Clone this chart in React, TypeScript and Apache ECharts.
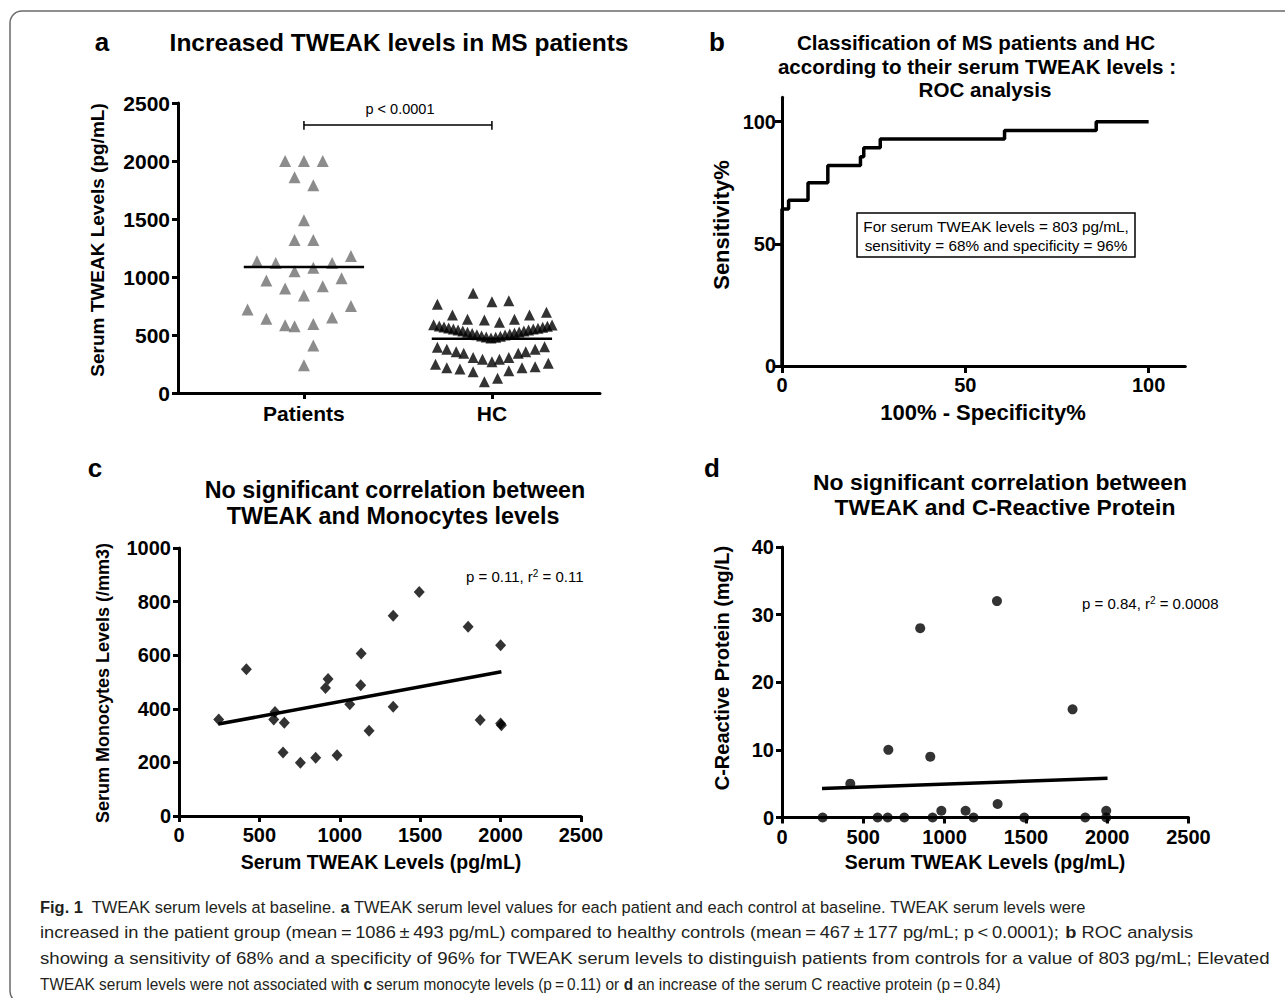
import React, { useEffect, useRef } from "react";
import * as echarts from "echarts";

// ---------- data ----------
const groups = ["Patients", "HC"];
const patientValues = [2000, 2000, 2000, 1860, 1790, 1490, 1320, 1320, 1135, 1120, 1050, 1080, 1120, 1180, 970, 900, 840, 920, 990, 720, 750, 640, 585, 575, 595, 650, 410, 240];
const patientJitter = [-0.1, 0, 0.1, -0.05, 0.05, 0, -0.05, 0.05, -0.25, -0.15, -0.05, 0.05, 0.15, 0.25, -0.2, -0.1, 0, 0.1, 0.2, -0.3, 0.25, -0.2, -0.1, -0.05, 0.05, 0.15, 0.05, 0];
const hcValues = [
  859, 787, 796, 765,
  672, 635, 629, 609, 635, 672, 696,
  394, 377, 356, 342, 307, 290, 270, 290, 307, 342, 356, 377, 399,
  247, 218, 207, 184, 98, 127, 192, 218, 227, 256,
  589, 578, 569, 560, 552, 543, 535, 523, 514, 503, 491, 483, 474, 480, 489, 500, 509, 517, 526, 535, 543, 552, 558, 566, 575, 586,
];
const hcJitter = [
  -0.1, 0, 0.09, -0.29,
  -0.21, -0.13, -0.04, 0.04, 0.12, 0.2, 0.29,
  -0.29, -0.24, -0.19, -0.15, -0.1, -0.05, 0, 0.04, 0.09, 0.14, 0.18, 0.23, 0.28,
  -0.3, -0.24, -0.17, -0.1, -0.04, 0.03, 0.09, 0.16, 0.23, 0.3,
  -0.31, -0.28, -0.255, -0.23, -0.205, -0.18, -0.155, -0.13, -0.105, -0.08, -0.055, -0.03, -0.005, 0.02, 0.045, 0.07, 0.095, 0.12, 0.145, 0.17, 0.195, 0.22, 0.245, 0.27, 0.295, 0.32,
];
const groupMeans = [1086, 467];
const meanHalfWidth = 0.32;
const sigBracketY = [2270, 2345, 2310];

const rocX = [0, 0, 1.8, 7.1, 12.5, 21.4, 22.3, 26.8, 60.7, 85.7, 100];
const rocY = [0, 64.3, 67.9, 75, 82.1, 85.7, 89.3, 92.9, 96.4, 100, 100];
const rocTicks = [0, 50, 100];

const tweakC = [247, 419, 589, 597, 655, 647, 755, 850, 911, 927, 983, 1062, 1130, 1133, 1182, 1332, 1332, 1494, 1798, 1873, 2000, 2000, 2005];
const monoC = [360, 548, 360, 388, 348, 237, 199, 217, 478, 511, 227, 417, 488, 606, 318, 408, 747, 836, 706, 358, 637, 345, 339];
const fitCX = [245, 2005];
const fitCY = [343, 538];

const tweakD = [250, 420, 588, 650, 654, 752, 850, 912, 926, 980, 1129, 1178, 1322, 1326, 1490, 1787, 1865, 1994, 1994];
const crpD = [0, 5, 0, 0, 10, 0, 28, 9, 0, 1, 1, 0, 32, 2, 0, 16, 0, 1, 0];
const fitDX = [246, 2002];
const fitDY = [4.3, 5.8];

const captionLines = [
  "{b|Fig. 1}  TWEAK serum levels at baseline. {b|a} TWEAK serum level values for each patient and each control at baseline. TWEAK serum levels were",
  "increased in the patient group (mean\u2009=\u20091086\u2009±\u2009493 pg/mL) compared to healthy controls (mean\u2009=\u2009467\u2009±\u2009177 pg/mL; p\u2009<\u20090.0001); {b|b} ROC analysis",
  "showing a sensitivity of 68% and a specificity of 96% for TWEAK serum levels to distinguish patients from controls for a value of 803 pg/mL; Elevated",
  "TWEAK serum levels were not associated with {b|c} serum monocyte levels (p\u2009=\u20090.11) or {b|d} an increase of the serum C reactive protein (p\u2009=\u20090.84)",
];

// ---------- layout / style ----------
const FONT = "'Liberation Sans', Arial, Helvetica, sans-serif";
const CAPTION_FONT = "'Liberation Sans', Arial, sans-serif";
const captionScaleX = [0.967, 1.075, 1.098, 0.908];

const txt = (text: string, x: number, y: number, size: number, o: any = {}) => ({
  type: "text",
  x,
  y,
  rotation: o.rotate ? Math.PI / 2 : 0,
  scaleX: o.scaleX || 1,
  silent: true,
  z: 10,
  style: {
    text,
    fill: o.fill || "#000",
    fontSize: size,
    fontWeight: o.normal ? "normal" : "bold",
    fontFamily: o.font || FONT,
    align: o.align || "center",
    textAlign: o.align || "center",
    verticalAlign: "middle",
    textVerticalAlign: "middle",
    rich: o.rich,
  },
});

const supRich = {
  s: { fontSize: 10, fontFamily: FONT, fill: "#000", verticalAlign: "top", lineHeight: 15 },
};

const axis = (gridIndex: number, o: any) => ({
  type: "value",
  gridIndex,
  min: o.min,
  max: o.max,
  interval: o.interval,
  axisLine: { show: true, onZero: false, lineStyle: { color: "#000", width: 3 } },
  axisTick: {
    show: true,
    inside: false,
    length: o.tickLen || 6,
    lineStyle: { color: "#000", width: 3 },
    ...(o.custom ? { customValues: o.custom } : {}),
  },
  axisLabel: {
    color: "#000",
    fontWeight: "bold",
    fontSize: o.fontSize || 20,
    fontFamily: FONT,
    margin: o.margin ?? 8,
    ...(o.custom ? { customValues: o.custom } : {}),
    formatter: o.formatter || ((v: number) => String(v)),
  },
  splitLine: { show: false },
});

function buildOption() {
  const patientsData = patientValues.map((v, i) => [1 + patientJitter[i], v]);
  const hcData = hcValues.map((v, i) => [2 + hcJitter[i], v]);

  const series: any[] = [
    {
      type: "scatter",
      xAxisIndex: 0,
      yAxisIndex: 0,
      symbol: "triangle",
      symbolSize: 12,
      itemStyle: { color: "#6f6f6f" },
      data: patientsData,
      clip: false,
    },
    {
      type: "scatter",
      xAxisIndex: 0,
      yAxisIndex: 0,
      symbol: "triangle",
      symbolSize: 11,
      itemStyle: { color: "#000" },
      data: hcData,
      clip: false,
    },
    ...groupMeans.map((m, i) => ({
      type: "line",
      xAxisIndex: 0,
      yAxisIndex: 0,
      symbol: "none",
      lineStyle: { color: "#000", width: 2.5 },
      data: [
        [i + 1 - meanHalfWidth, m],
        [i + 1 + meanHalfWidth, m],
      ],
      clip: false,
      z: 5,
    })),
    {
      type: "line",
      xAxisIndex: 0,
      yAxisIndex: 0,
      symbol: "none",
      lineStyle: { color: "#000", width: 1.5 },
      data: [
        [1, sigBracketY[0]],
        [1, sigBracketY[1]],
        [1, sigBracketY[2]],
        [2, sigBracketY[2]],
        [2, sigBracketY[1]],
        [2, sigBracketY[0]],
      ],
      clip: false,
    },
    {
      type: "line",
      xAxisIndex: 1,
      yAxisIndex: 1,
      symbol: "none",
      step: "end",
      lineStyle: { color: "#000", width: 3.5 },
      data: rocX.map((x, i) => [x, rocY[i]]),
      clip: false,
      z: 5,
    },
    {
      type: "scatter",
      xAxisIndex: 2,
      yAxisIndex: 2,
      symbol: "diamond",
      symbolSize: [11, 12],
      itemStyle: { color: "#000" },
      data: tweakC.map((x, i) => [x, monoC[i]]),
      clip: false,
    },
    {
      type: "line",
      xAxisIndex: 2,
      yAxisIndex: 2,
      symbol: "none",
      lineStyle: { color: "#000", width: 3.5 },
      data: fitCX.map((x, i) => [x, fitCY[i]]),
      clip: false,
    },
    {
      type: "scatter",
      xAxisIndex: 3,
      yAxisIndex: 3,
      symbol: "circle",
      symbolSize: 10,
      itemStyle: { color: "#000" },
      data: tweakD.map((x, i) => [x, crpD[i]]),
      clip: false,
      z: 6,
    },
    {
      type: "line",
      xAxisIndex: 3,
      yAxisIndex: 3,
      symbol: "none",
      lineStyle: { color: "#000", width: 3.5 },
      data: fitDX.map((x, i) => [x, fitDY[i]]),
      clip: false,
    },
  ];

  const graphic: any[] = [
    {
      type: "rect",
      silent: true,
      shape: { x: 10, y: 11, width: 1300, height: 992, r: 12 },
      style: { fill: "none", stroke: "#6a6a6a", lineWidth: 1.5 },
    },
    // panel a
    txt("a", 102, 42, 26),
    txt("Increased TWEAK levels in MS patients", 399, 42, 24.5),
    txt("p < 0.0001", 400, 109, 14.5, { normal: true }),
    txt("Serum TWEAK Levels (pg/mL)", 97, 240, 19, { rotate: true }),
    // panel b
    txt("b", 717, 42, 26),
    txt("Classification of MS patients and HC", 976, 42, 20.6),
    txt("according to their serum TWEAK levels :", 977, 66, 20.6),
    txt("ROC analysis", 985, 89, 20.6),
    txt("Sensitivity%", 721, 225, 22, { rotate: true }),
    txt("100% - Specificity%", 983, 412, 22),
    {
      type: "rect",
      silent: true,
      z: 9,
      shape: { x: 857, y: 213, width: 278, height: 44 },
      style: { fill: "#fff", stroke: "#000", lineWidth: 1.5 },
    },
    txt("For serum TWEAK levels = 803 pg/mL,", 996, 226, 15.3, { normal: true }),
    txt("sensitivity = 68% and specificity = 96%", 996, 245, 15.3, { normal: true }),
    // panel c
    txt("c", 95, 468, 26),
    txt("No significant correlation between", 395, 490, 23.3),
    txt("TWEAK and Monocytes levels", 393, 516, 23.3),
    txt("Serum Monocytes Levels (/mm3)", 103, 683, 18, { rotate: true }),
    txt("Serum TWEAK Levels (pg/mL)", 381, 862, 19.5),
    txt("p = 0.11, r{s|2} = 0.11", 466, 576, 15, { normal: true, align: "left", rich: supRich }),
    // panel d
    txt("d", 712, 468, 26),
    txt("No significant correlation between", 1000, 482, 22.9),
    txt("TWEAK and C-Reactive Protein", 1005, 507, 22.9),
    txt("C-Reactive Protein (mg/L)", 722, 668, 20, { rotate: true }),
    txt("Serum TWEAK Levels (pg/mL)", 985, 862, 19.5),
    txt("p = 0.84, r{s|2} = 0.0008", 1082, 603, 15, { normal: true, align: "left", rich: supRich }),
    // caption
    ...captionLines.map((line, i) =>
      txt(line, 40, 907 + i * 25.5, 17, {
        normal: true,
        align: "left",
        font: CAPTION_FONT,
        fill: "#231f20",
        scaleX: captionScaleX[i],
        rich: { b: { fontWeight: "bold", fontSize: 17, fontFamily: CAPTION_FONT, fill: "#231f20" } },
      })
    ),
  ];

  return {
    animation: false,
    backgroundColor: "#fff",
    textStyle: { fontFamily: FONT },
    grid: [
      { left: 178, top: 103, width: 422, height: 290 },
      { left: 782, top: 97.3, width: 403.3, height: 268.7 },
      { left: 179, top: 548, width: 402, height: 268 },
      { left: 782, top: 547, width: 406.5, height: 270.5 },
    ],
    xAxis: [
      axis(0, {
        min: 0.33,
        max: 2.575,
        custom: [1, 2],
        fontSize: 21,
        margin: 10,
        formatter: (v: number) => groups[Math.round(v) - 1] || "",
      }),
      axis(1, { min: 0, max: 110, custom: rocTicks, fontSize: 20, margin: 9, tickLen: 7 }),
      axis(2, { min: 0, max: 2500, interval: 500, fontSize: 20, margin: 9 }),
      axis(3, { min: 0, max: 2500, interval: 500, fontSize: 20, margin: 9 }),
    ],
    yAxis: [
      axis(0, { min: 0, max: 2500, interval: 500, fontSize: 21, margin: 8 }),
      axis(1, { min: 0, max: 110, custom: rocTicks, fontSize: 20, margin: 6, tickLen: 7 }),
      axis(2, { min: 0, max: 1000, interval: 200, fontSize: 20, margin: 8 }),
      axis(3, { min: 0, max: 40, interval: 10, fontSize: 20, margin: 8 }),
    ],
    series,
    graphic,
  };
}

export default function App() {
  const ref = useRef<HTMLDivElement>(null);
  useEffect(() => {
    document.body.style.margin = "0";
    if (!ref.current) return;
    const chart = echarts.init(ref.current, null, { renderer: "svg", width: 1285, height: 998 });
    chart.setOption(buildOption() as any);
    return () => chart.dispose();
  }, []);
  return (
    <div
      ref={ref}
      style={{ position: "absolute", left: 0, top: 0, width: 1285, height: 998, background: "#fff" }}
    />
  );
}
